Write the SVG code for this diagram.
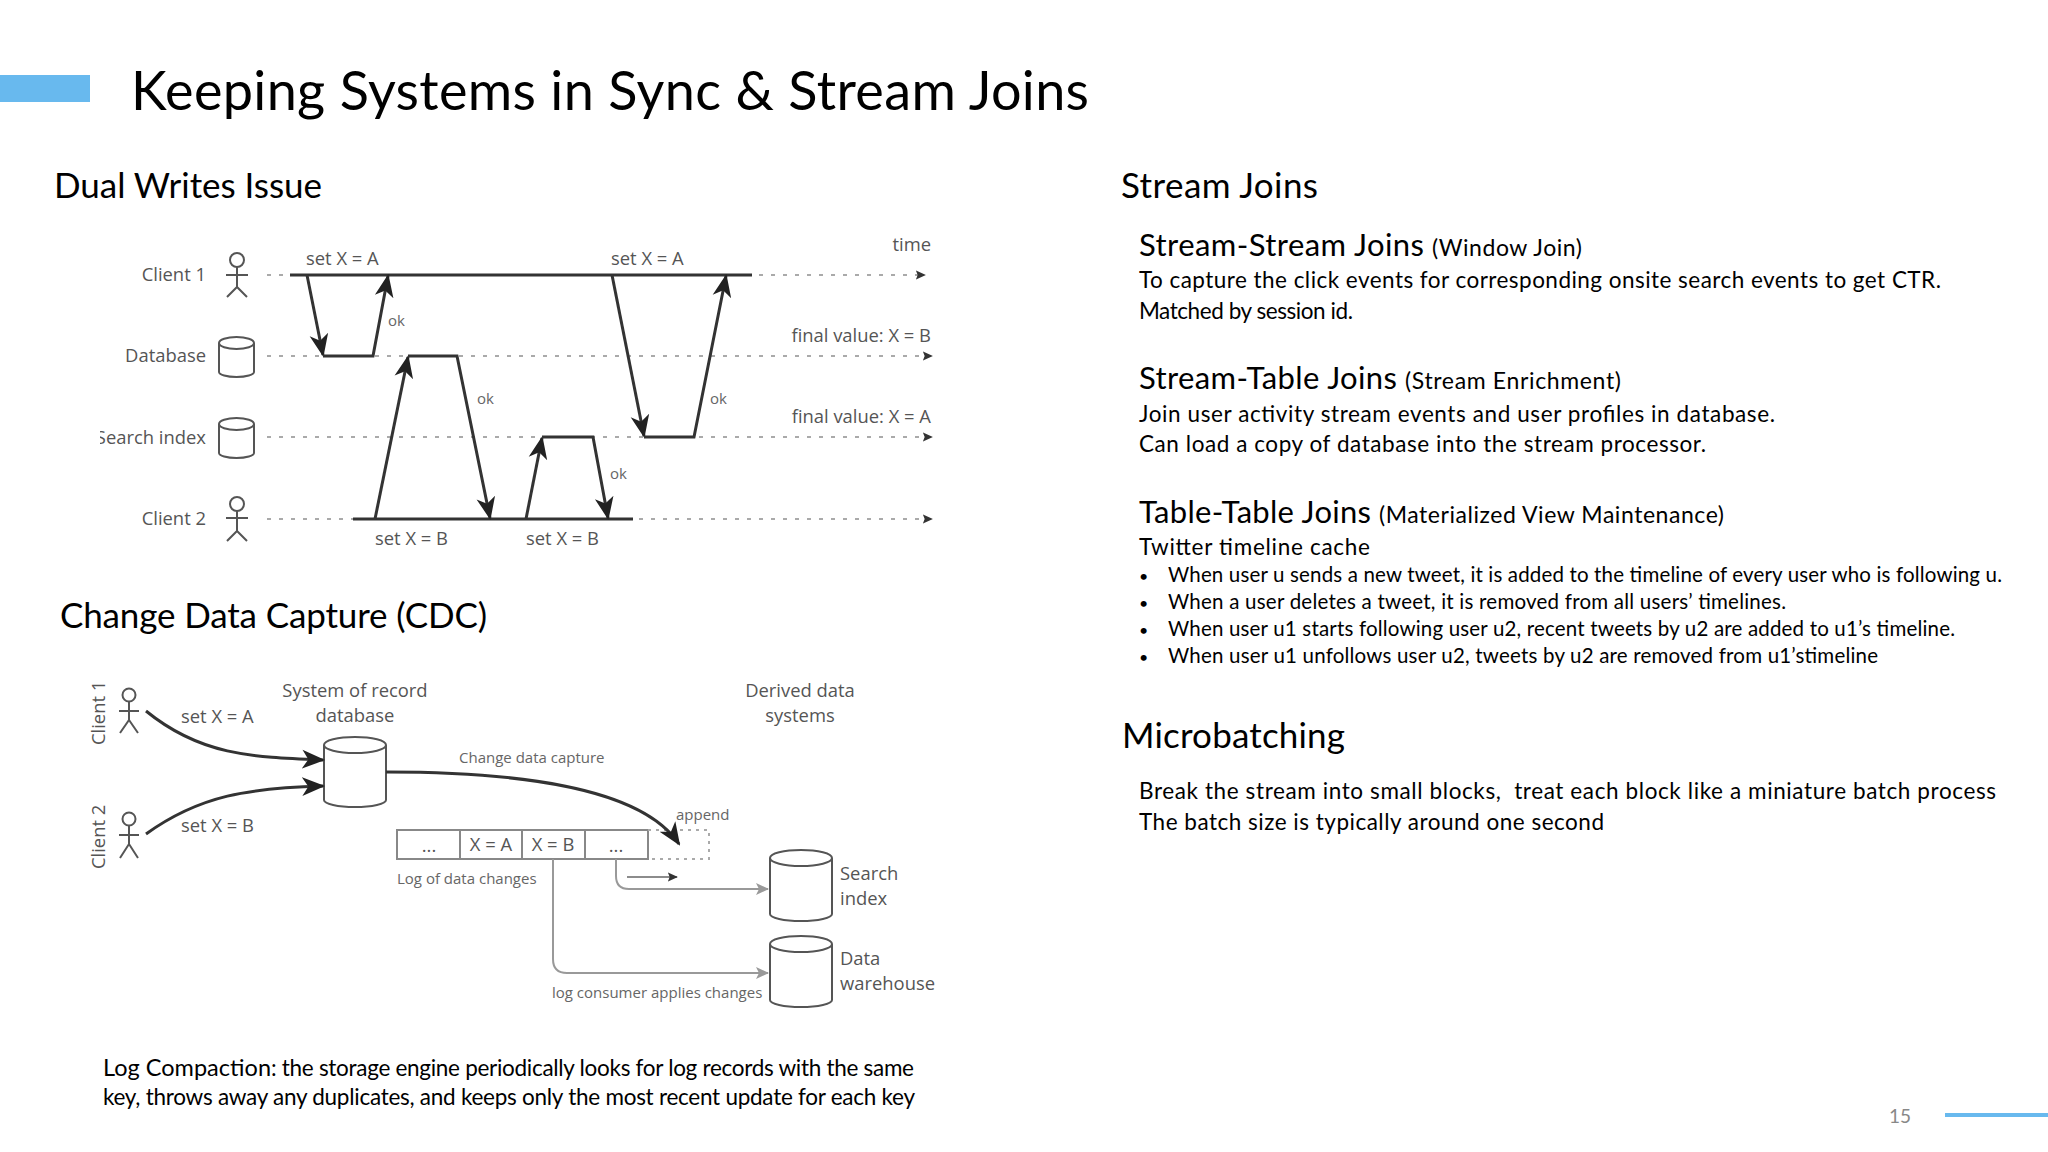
<svg xmlns="http://www.w3.org/2000/svg" width="2048" height="1152" viewBox="0 0 2048 1152">
<defs>
<marker id="ah" viewBox="0 0 22 22" refX="20" refY="11" markerWidth="23" markerHeight="23" markerUnits="userSpaceOnUse" orient="auto"><path d="M0,2 L22,11 L0,20 L6,11 Z" fill="#222"/></marker>
<marker id="sm" viewBox="0 0 12 12" refX="10" refY="6" markerWidth="11" markerHeight="11" markerUnits="userSpaceOnUse" orient="auto"><path d="M0,1 L11,6 L0,11 L2,6 Z" fill="#333"/></marker>
<marker id="gr" viewBox="0 0 14 14" refX="12" refY="7" markerWidth="14" markerHeight="14" markerUnits="userSpaceOnUse" orient="auto"><path d="M0,1 L13,7 L0,13 L3,7 Z" fill="#999"/></marker>
</defs>
<style>
text{font-family:"Lato","Noto Sans","Liberation Sans",sans-serif;fill:#000}
.t{font-size:54px}
.h{font-size:35px}
.s{font-size:31px}
.sub{font-size:23px}
.b{font-size:22.500px}
.l{font-size:20.500px}
.bu{font-size:16px}
.d{font-family:"Open Sans","Noto Sans",sans-serif;font-size:18.400px;fill:#555}
.sm{font-family:"Open Sans","Noto Sans",sans-serif;font-size:15px;fill:#666}
.solid{fill:none;stroke:#333;stroke-width:3}
.dash{fill:none;stroke:#aaa;stroke-width:2;stroke-dasharray:4 8}
.fig{fill:none;stroke:#555;stroke-width:2}
.cyl{fill:#fff;stroke:#555;stroke-width:2}
.grey{fill:none;stroke:#999;stroke-width:2}
</style>
<rect width="2048" height="1152" fill="#fff"/>
<rect x="0" y="75" width="90" height="27" fill="#68b9ee"/>
<text class="t" x="131" y="110" textLength="958">Keeping Systems in Sync &amp; Stream Joins</text>
<text class="h" x="54" y="198" textLength="268">Dual Writes Issue</text>
<text class="h" x="60" y="628" textLength="427">Change Data Capture (CDC)</text>
<text class="h" x="1121" y="198" textLength="197">Stream Joins</text>
<text class="h" x="1122" y="748" textLength="223">Microbatching</text>

<g id="connectors-dual">
<path class="dash" d="M267,275H925" marker-end="url(#sm)"/>
<path class="dash" d="M267,356H932" marker-end="url(#sm)"/>
<path class="dash" d="M267,437H932" marker-end="url(#sm)"/>
<path class="dash" d="M267,519H932" marker-end="url(#sm)"/>
<path class="solid" d="M290,275H752M353,519H633"/>
<path class="solid" d="M307,275L323,355" marker-end="url(#ah)"/>
<path class="solid" d="M323,356H373L388,276" marker-end="url(#ah)"/>
<path class="solid" d="M375,519L408,357" marker-end="url(#ah)"/>
<path class="solid" d="M408,356H457L490,518" marker-end="url(#ah)"/>
<path class="solid" d="M526,519L542,438" marker-end="url(#ah)"/>
<path class="solid" d="M542,437H593L608,518" marker-end="url(#ah)"/>
<path class="solid" d="M612,275L644,436" marker-end="url(#ah)"/>
<path class="solid" d="M644,437H694L726,276" marker-end="url(#ah)"/>
</g>
<g id="client1-dual"><text class="d" x="206" y="281" text-anchor="end">Client 1</text><circle class="fig" cx="237" cy="260" r="7"/><path class="fig" d="M237,267V287M226,275H248M227,297L237,287L247,297"/></g>
<g id="database-dual"><text class="d" x="206" y="362" text-anchor="end">Database</text><path class="cyl" d="M219,343a17.500,6 0 0 1 35,0V372a17.500,5 0 0 1 -35,0Z"/><path class="fig" d="M219,343a17.500,6 0 0 0 35,0"/></g>
<g id="search-dual"><text class="d" x="206" y="444" text-anchor="end">Search index</text><rect x="88" y="420" width="12" height="40" fill="#fff"/><path class="cyl" d="M219,424a17.500,6 0 0 1 35,0V453a17.500,5 0 0 1 -35,0Z"/><path class="fig" d="M219,424a17.500,6 0 0 0 35,0"/></g>
<g id="client2-dual"><text class="d" x="206" y="525" text-anchor="end">Client 2</text><circle class="fig" cx="237" cy="504" r="7"/><path class="fig" d="M237,511V531M226,518H248M227,541L237,531L247,541"/></g>
<g id="labels-dual">
<text class="d" x="306" y="265">set X = A</text><text class="d" x="611" y="265">set X = A</text>
<text class="d" x="375" y="545">set X = B</text><text class="d" x="526" y="545">set X = B</text>
<text class="sm" x="388" y="326">ok</text><text class="sm" x="477" y="404">ok</text><text class="sm" x="710" y="404">ok</text><text class="sm" x="610" y="479">ok</text>
<text class="d" x="931" y="251" text-anchor="end">time</text>
<text class="d" x="931" y="342" text-anchor="end">final value: X = B</text>
<text class="d" x="931" y="423" text-anchor="end">final value: X = A</text>
</g>

<g id="system-db"><text class="d" x="355" y="697" text-anchor="middle">System of record</text><text class="d" x="355" y="722" text-anchor="middle">database</text><path class="cyl" d="M324,745a31,8 0 0 1 62,0V800a31,7 0 0 1 -62,0Z"/><path class="fig" d="M324,745a31,8 0 0 0 62,0"/></g>
<g id="log"><rect x="397" y="830" width="251" height="29" fill="#fff" stroke="#888" stroke-width="2"/><path d="M460,830V859M522,830V859M585,830V859" stroke="#888" stroke-width="2"/>
<text class="d" x="429" y="852" text-anchor="middle">...</text><text class="d" x="491" y="851" text-anchor="middle">X = A</text><text class="d" x="553" y="851" text-anchor="middle">X = B</text><text class="d" x="616" y="852" text-anchor="middle">...</text>
<text class="sm" x="397" y="884">Log of data changes</text></g>
<g id="derived"><text class="d" x="800" y="697" text-anchor="middle">Derived data</text><text class="d" x="800" y="722" text-anchor="middle">systems</text></g>
<g id="search-cdc"><path class="cyl" d="M770,858a31,8 0 0 1 62,0V914a31,7 0 0 1 -62,0Z"/><path class="fig" d="M770,858a31,8 0 0 0 62,0"/><text class="d" x="840" y="880">Search</text><text class="d" x="840" y="905">index</text></g>
<g id="warehouse-cdc"><path class="cyl" d="M770,944a31,8 0 0 1 62,0V1000a31,7 0 0 1 -62,0Z"/><path class="fig" d="M770,944a31,8 0 0 0 62,0"/><text class="d" x="840" y="965">Data</text><text class="d" x="840" y="990">warehouse</text></g>
<g id="client1-cdc"><text class="d" transform="translate(105,745) rotate(-90)">Client 1</text><circle class="fig" cx="129" cy="695" r="6.500"/><path class="fig" d="M129,702V720M119,711H139M120,733L129,720L138,733"/></g>
<g id="client2-cdc"><text class="d" transform="translate(105,869) rotate(-90)">Client 2</text><circle class="fig" cx="129" cy="819" r="6.500"/><path class="fig" d="M129,826V844M119,835H139M120,858L129,844L138,858"/></g>
<g id="connectors-cdc">
<path d="M146,711C200,755 250,757 323,760" fill="none" stroke="#333" stroke-width="3" marker-end="url(#ah)"/>
<path d="M146,834C200,795 250,788 323,786" fill="none" stroke="#333" stroke-width="3" marker-end="url(#ah)"/>
<path d="M648,830H709V859H648" fill="none" stroke="#aaa" stroke-width="2" stroke-dasharray="3 5"/>
<path d="M386,772C510,772 640,785 679,844" fill="none" stroke="#333" stroke-width="3" marker-end="url(#ah)"/>
<path class="grey" d="M616,859V876Q616,889 629,889H768" marker-end="url(#gr)"/>
<path d="M627,877H677" fill="none" stroke="#666" stroke-width="1.500" marker-end="url(#sm)"/>
<path class="grey" d="M553,859V959Q553,973 567,973H768" marker-end="url(#gr)"/>
</g>
<g id="labels-cdc"><text class="d" x="181" y="723">set X = A</text><text class="d" x="181" y="832">set X = B</text><text class="sm" x="459" y="763">Change data capture</text><text class="sm" x="676" y="820">append</text><text class="sm" x="552" y="998">log consumer applies changes</text></g>

<text font-size="23.500" x="103" y="1076" textLength="168">Log Compaction</text><text class="b" x="271" y="1076" textLength="643">: the storage engine periodically looks for log records with the same</text>
<text class="b" x="103" y="1105" textLength="812">key, throws away any duplicates, and keeps only the most recent update for each key</text>

<text class="s" x="1139" y="256" textLength="285">Stream-Stream Joins</text><text class="sub" x="1432" y="256" textLength="150">(Window Join)</text>
<text class="b" x="1139" y="288" textLength="802">To capture the click events for corresponding onsite search events to get CTR.</text>
<text class="b" x="1139" y="319" textLength="214">Matched by session id.</text>
<text class="s" x="1139" y="389" textLength="258">Stream-Table Joins</text><text class="sub" x="1405" y="389" textLength="216">(Stream Enrichment)</text>
<text class="b" x="1139" y="422" textLength="636">Join user activity stream events and user profiles in database.</text>
<text class="b" x="1139" y="452" textLength="567">Can load a copy of database into the stream processor.</text>
<text class="s" x="1139" y="523" textLength="232">Table-Table Joins</text><text class="sub" x="1379" y="523" textLength="345">(Materialized View Maintenance)</text>
<text class="b" x="1139" y="555" textLength="231">Twitter timeline cache</text>
<text class="bu" x="1139" y="582">•</text><text class="l" x="1168" y="582" textLength="834">When user u sends a new tweet, it is added to the timeline of every user who is following u.</text>
<text class="bu" x="1139" y="609">•</text><text class="l" x="1168" y="609" textLength="618">When a user deletes a tweet, it is removed from all users’ timelines.</text>
<text class="bu" x="1139" y="636">•</text><text class="l" x="1168" y="636" textLength="787">When user u1 starts following user u2, recent tweets by u2 are added to u1’s timeline.</text>
<text class="bu" x="1139" y="663">•</text><text class="l" x="1168" y="663" textLength="710">When user u1 unfollows user u2, tweets by u2 are removed from u1’stimeline</text>
<text class="b" x="1139" y="799" textLength="857" xml:space="preserve">Break the stream into small blocks,  treat each block like a miniature batch process</text>
<text class="b" x="1139" y="830" textLength="465">The batch size is typically around one second</text>
<text x="1889" y="1123" font-size="19" style="fill:#888">15</text>
<rect x="1945" y="1113" width="103" height="4" fill="#68b9ee"/>
</svg>
